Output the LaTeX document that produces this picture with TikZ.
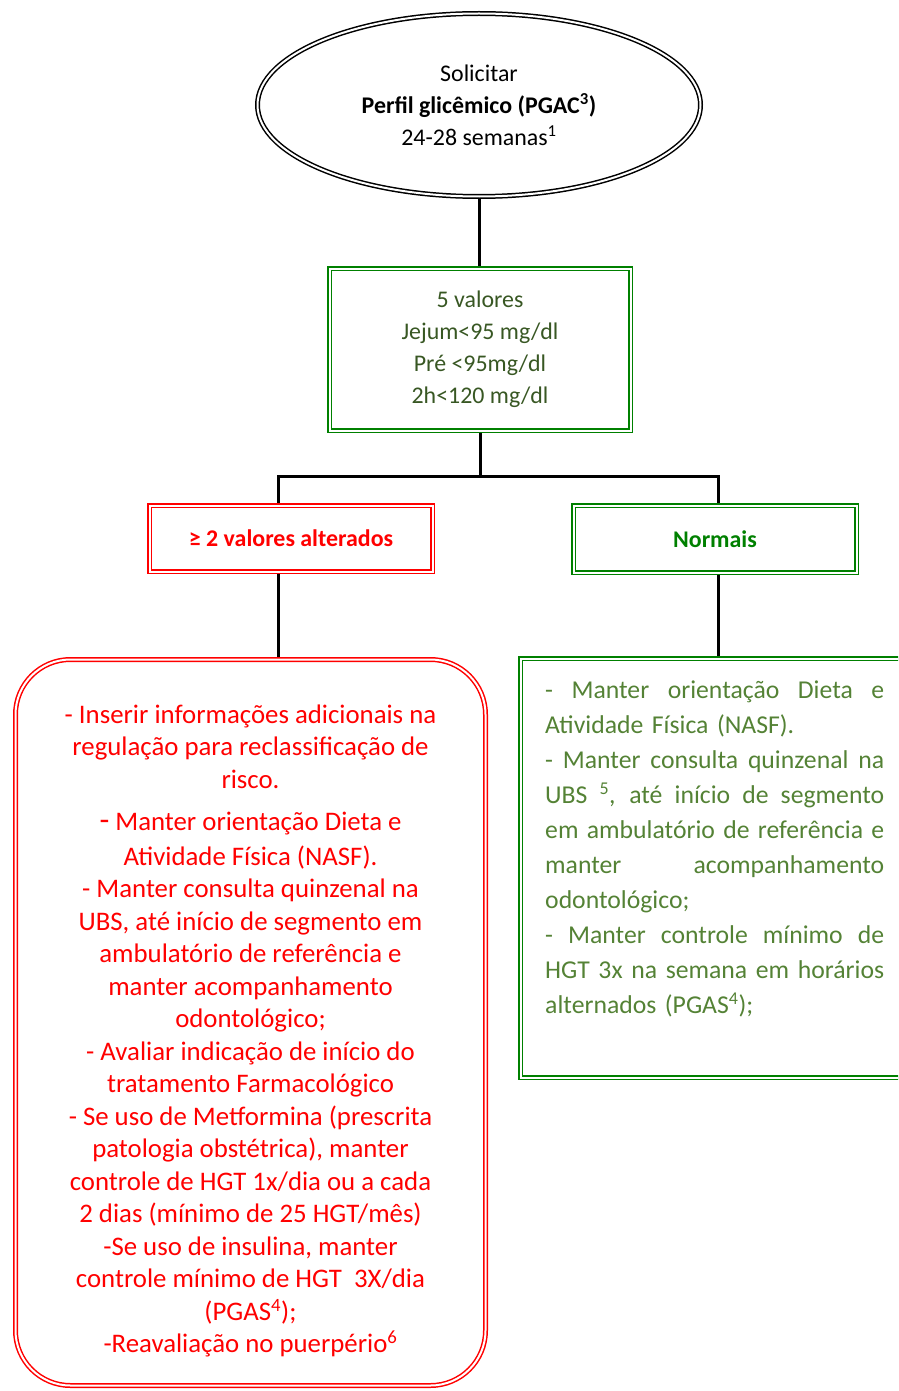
\documentclass[tikz,border=0pt]{standalone}
\usepackage{fontspec}
\setmainfont{Carlito}
\usepackage{tikz}
\usetikzlibrary{shapes.geometric,positioning,backgrounds,calc}
\usepackage{xcolor}
\definecolor{AlertRed}{RGB}{255,0,0}
\definecolor{BoxGreen}{RGB}{0,128,0}
\definecolor{ValGreen}{RGB}{56,87,35}
\definecolor{ListGreen}{RGB}{84,130,53}
\newcommand{\mainsz}{\fontsize{23.9}{32}\selectfont}
\newcommand{\redsz}{\fontsize{26.8}{32.5}\selectfont}
\newcommand{\greensz}{\fontsize{25.7}{35}\selectfont}
\newcommand{\jline}[1]{\leavevmode\hbox to 339pt{\spaceskip=0.226em plus 1fil\relax #1}}

\begin{document}
\begin{tikzpicture}[x=1pt,y=-1pt,
  dblbox/.style={draw,double,double distance=2pt,line width=1.5pt,inner sep=0pt},
  okblk/.style={dblbox,draw=BoxGreen,minimum width=283pt,minimum height=67pt,
                text=BoxGreen,font=\mainsz\bfseries},
  nokblk/.style={dblbox,draw=AlertRed,minimum width=283pt,minimum height=66pt,
                 text=AlertRed,font=\mainsz\bfseries},
  conn/.style={line width=3pt,black},
]
\useasboundingbox (0,0) rectangle (898,1391);
\clip (0,0) rectangle (898,1391);

% top request and reference values
\node[ellipse,dblbox,draw=black,minimum width=443pt,minimum height=183pt,
      font=\mainsz,align=center] (req) at (479,105)
  {Solicitar\\\textbf{Perfil glicêmico (PGAC\textsuperscript{3})}\\24-28 semanas\textsuperscript{1}};
\node[dblbox,draw=BoxGreen,text=ValGreen,minimum width=301pt,minimum height=162pt,
      font=\mainsz,align=center] (vals) at (480,349.5)
  {5 valores\\Jejum<95 mg/dl\\Pré <95mg/dl\\2h<120 mg/dl};

% the two outcomes
\node[nokblk] (alt) at (291,538.5) {≥ 2 valores alterados};
\node[okblk] (norm) at (715,539) {Normais};

% conduct when altered
\node[dblbox,draw=AlertRed,rounded corners=55pt,minimum width=470pt,minimum height=726pt]
  (altplan) at (250.5,1022.5) {};
\node[inner sep=0pt,text=AlertRed,font=\redsz,align=center] (alttxt) at (250.5,1031)
  {- Inserir informações adicionais na\\
   regulação para reclassificação de\\
   risco.\\[10pt]
   {\fontsize{32}{32}\selectfont -}\ Manter orientação Dieta e\\[2pt]
   Atividade Física (NASF).\\
   - Manter consulta quinzenal na\\
   UBS, até início de segmento em\\
   ambulatório de referência e\\
   manter acompanhamento\\
   odontológico;\\
   - Avaliar indicação de início do\\
   tratamento Farmacológico\\
   - Se uso de Metformina (prescrita\\
   patologia obstétrica), manter\\
   controle de HGT 1x/dia ou a cada\\
   2 dias (mínimo de 25 HGT/mês)\\
   -Se uso de insulina, manter\\
   controle mínimo de HGT\ \ 3X/dia\\
   (PGAS\textsuperscript{4});\\
   -Reavaliação no puerpério\textsuperscript{6}};

% conduct when normal
\node[dblbox,draw=BoxGreen,minimum width=394.5pt,minimum height=419pt] (normplan) at (717.75,868) {};
\node[anchor=north west,inner sep=0pt,text width=339pt,align=left,
      text=ListGreen,font=\greensz] (normtxt) at (545,681)
  {\jline{- Manter orientação Dieta e}\\
   Atividade Física (NASF).\\
   \jline{- Manter consulta quinzenal na}\\
   \jline{UBS \textsuperscript{5}, até início de segmento}\\
   \jline{em ambulatório de referência e}\\
   \jline{manter acompanhamento}\\
   odontológico;\\
   \jline{- Manter controle mínimo de}\\
   \jline{HGT 3x na semana em horários}\\
   alternados (PGAS\textsuperscript{4});};

\begin{scope}[on background layer]
\draw[conn] (req.south) -- (req.south |- vals.north);
\draw[conn] (vals.south) -- ++(0,45) coordinate (fork);
\draw[conn] ([xshift=-13pt]alt.north) |- (fork) -| ([xshift=3pt]norm.north);
\draw[conn] ([xshift=-13pt]alt.south) -- ([xshift=-13pt]alt.south |- altplan.north);
\draw[conn] ([xshift=3pt]norm.south) -- ([xshift=3pt]norm.south |- normplan.north);
\end{scope}
\end{tikzpicture}
\end{document}
